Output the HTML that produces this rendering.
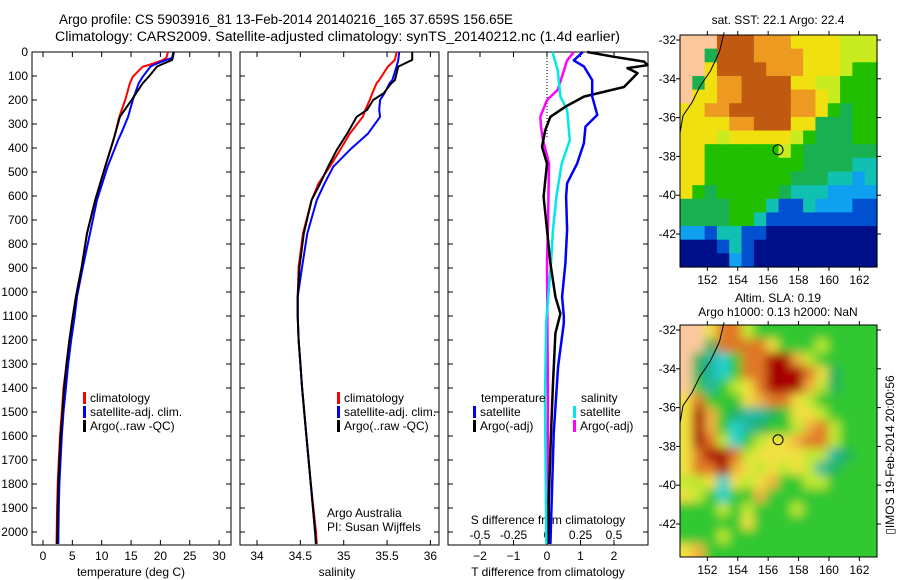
<!DOCTYPE html>
<html><head><meta charset="utf-8">
<style>
html,body{margin:0;padding:0;background:#fff;}
svg{display:block;font-family:"Liberation Sans",sans-serif;}
text{font-size:12px;fill:#000;}
</style></head>
<body>
<svg id="fig" width="900" height="580" viewBox="0 0 900 580" xmlns="http://www.w3.org/2000/svg">
<defs>
<filter id="blur" x="-5%" y="-5%" width="110%" height="110%"><feGaussianBlur stdDeviation="5"/></filter>
<clipPath id="clipSla"><rect x="680" y="325" width="197" height="232"/></clipPath>
</defs>
<text x="59" y="24" textLength="454" lengthAdjust="spacingAndGlyphs" style="font-size:13.5px">Argo profile: CS 5903916_81 13-Feb-2014 20140216_165 37.659S 156.65E</text>
<text x="55" y="41" textLength="565" lengthAdjust="spacingAndGlyphs" style="font-size:13.5px">Climatology: CARS2009. Satellite-adjusted climatology: synTS_20140212.nc (1.4d earlier)</text>
<g id="p1"></g>
<g id="p2"></g>
<g id="p3"></g>
<g id="m1"></g>
<g id="m2"></g>
<text x="778" y="24" text-anchor="middle">sat. SST: 22.1 Argo: 22.4</text>
<text x="778" y="302" text-anchor="middle">Altim. SLA: 0.19</text>
<text x="778" y="316" text-anchor="middle">Argo h1000: 0.13 h2000: NaN</text>
<text transform="translate(894,455) rotate(-90)" text-anchor="middle">▯IMOS 19-Feb-2014 20:00:56</text>
</svg>
<script>
// ---- data ----
const tDepth   = [0,25,33,54,61,103,130,200,270,340,367,478,617,756,895,1020,1100,1200,1300,1400,1500,1600,1700,1800,1900,2050];
const tClim    = [21.3,21.0,20.5,18.0,17,15.3,14.8,14,13,12.3,12.0,10.6,8.9,7.5,6.6,5.6,5.1,4.5,4.0,3.5,3.2,2.9,2.7,2.5,2.4,2.3];
const tSat     = [22.2,22.0,21.0,18.8,18.3,17,16.3,15.3,14.5,13.3,12.8,11,9.2,8.0,6.8,5.8,5.4,4.8,4.3,3.9,3.5,3.2,3.0,2.8,2.7,2.6];
const tArgo    = [22.3,22.1,22,20,19.4,18,17,15.1,13.1,12.3,12.0,10.6,8.9,7.5,6.6,5.6,5.1,4.5,4.0,3.6,3.3,3.0,2.8,2.6,2.5,2.4];
const sDepth   = [0,33,61,117,130,172,200,241,270,340,408,478,547,617,756,895,1020,1100,1200,1300,1400,1600,1800,2000,2050];
const sClim    = [35.61,35.59,35.51,35.41,35.38,35.33,35.30,35.25,35.22,35.07,34.96,34.84,34.71,34.63,34.53,34.48,34.47,34.47,34.48,34.50,34.52,34.57,34.62,34.68,34.69];
const sSat     = [35.64,35.63,35.61,35.56,35.53,35.47,35.42,35.41,35.42,35.28,35.07,34.88,34.78,34.69,34.58,34.52,34.47,34.47,34.48,34.50,34.52,34.57,34.62,34.67,34.68];
const sArgo    = [35.79,35.79,35.63,35.59,35.55,35.46,35.34,35.27,35.15,35.04,34.92,34.82,34.73,34.63,34.54,34.49,34.47,34.47,34.48,34.50,34.52,34.57,34.62,34.67,34.68];
const dtDepth  = [0,20,40,55,67,88,146,186,228,270,325,395,465,603,740,880,1020,1090,1172,1380,1590,1870,2050];
const dtArgo   = [1.2,2.0,2.9,3.0,2.4,2.7,2.3,1.1,0.55,0.1,-0.05,-0.15,0,-0.1,0,0.1,0.25,0.4,0.25,0.18,0.12,0.05,0.05];
const dtSatD   = [0,35,60,117,186,262,311,380,465,547,603,740,880,1020,1100,1130,1310,1590,2050];
const dtSat    = [1.07,0.8,1.1,1.35,1.35,1.5,1.15,1.1,0.9,0.6,0.57,0.6,0.55,0.45,0.5,0.5,0.33,0.2,0.1];
const dsSatD   = [0,75,186,241,367,465,603,740,880,1130,1450,2050];
const dsSat    = [0.04,0.08,0.1,0.15,0.17,0.11,0.07,0.045,0.03,-0.007,-0.015,-0.005];
const dsArgoD  = [0,35,88,158,200,270,311,367,465,740,880,1450,2050];
const dsArgo   = [0.2,0.15,0.12,0.08,0,-0.05,-0.045,-0.03,0.015,0.007,0,0.007,0.005];
const depthTicks = [0,100,200,300,400,500,600,700,800,900,1000,1100,1200,1300,1400,1500,1600,1700,1800,1900,2000];
const tTicks = [0,5,10,15,20,25,30];
const sTicks = [34,34.5,35,35.5,36];
const dtTicks = [-2,-1,0,1,2];
const dsTicks = [-0.5,-0.25,0,0.25,0.5];
const dsTickLabels = ['-0.5','-0.25','0','0.25','0.5'];
const lonTicks = [152,154,156,158,160,162];
const latTicks = [-32,-34,-36,-38,-40,-42];
const argoLon = 156.65, argoLat = -37.659;
const sstGrid = [
"LLLRRROOOYYYYyyy","LLgRRROOOOYYYyyy","LLYRRRROOOYYYyGG","LgYOORRRRYYyyGGG","LYYOORRRROOYyGGG",
"YYOORRRRROOYGgGG","YYYYOORRRYYgggGG","YYYyYYYYYyGgggGG","YYGGGGGGyGgggggg","YYGGGGGGGGggggTT",
"YYGGGGGGGgggTTBT","YGgGGGGGgTTTBBBB","ggggGGGTbbTBBBbb","ggggGGTbbbbbbbbb","BBbTTbbNNNNNNNNN",
"NNNbTbNNNNNNNNNN","NNNNBbNNNNNNNNNN"];
const slaGrid = [
"LLYOOyGGGGGGGGGG","LLgOOOOYGGGyGGGG","LgTCGOODDoyGGGGG","LgTCGOODDDOYgGGG","LGTGyYODDDoygGGG",
"YOGGGYoOOYyGGGGG","YDoGgTTgGYYyGGGG","YDoGCTgGGyoOyGGG","YDOyCGyYYoOOyGGG","YODDOyYYYYyyTgGG",
"YOODoYyYyYyTgGGG","yyYCYyYoGGyyGGGG","YyGCGGoGGGGGGGGG","GGGyGyGGGyGGGGGG","GGGGGYGGGGGGGGGG",
"GGGyGGGGGGGGGGGG","YoGGGGGGGGGGGGGG"];
const sstColors = {L:'#fcc89b',R:'#c05a10',O:'#ec9a20',Y:'#f0e010',y:'#c8ec20',G:'#20c000',g:'#18b050',T:'#10c0b0',B:'#10a0f0',b:'#0050d0',N:'#00108a'};
const slaColors = {L:'#fcc89b',D:'#a80000',O:'#e07828',o:'#f0b040',Y:'#f0e040',y:'#c0e830',G:'#30c830',g:'#20b060',T:'#20b8a0',C:'#20d0d0'};

// ---- helpers ----
const NS='http://www.w3.org/2000/svg';
function mk(parent,tag,attrs,txt){const e=document.createElementNS(NS,tag);for(const k in attrs)e.setAttribute(k,attrs[k]);if(txt!==undefined)e.textContent=txt;parent.appendChild(e);return e;}
const TOP=52, BOT=545;
const yD = d => TOP + d*0.24;
function frame(g,x0,x1,name){
  const r=mk(g,'rect',{x:x0,y:TOP,width:x1-x0,height:BOT-TOP,fill:'none',stroke:'#000','stroke-width':1});
  
  
  depthTicks.forEach(d=>{const y=yD(d);
    mk(g,'line',{x1:x0,x2:x0+5,y1:y,y2:y,stroke:'#000'});
    mk(g,'line',{x1:x1-5,x2:x1,y1:y,y2:y,stroke:'#000'});});
}
function series(g,xs,ds,xf,color,w,name){
  const pts=xs.map((v,i)=>xf(v).toFixed(1)+','+yD(ds[i]).toFixed(1)).join(' ');
  const p=mk(g,'polyline',{points:pts,fill:'none',stroke:color,'stroke-width':w,'stroke-linejoin':'round'});
  
  
}
function legend(g,x,y,color,label,name){
  mk(g,'rect',{x:x,y:y-10,width:3,height:12,fill:color});
  const t=mk(g,'text',{x:x+7,y:y},label);
  
  
}

// ---- panel 1: temperature ----
const p1=document.getElementById('p1');
const xT = t => 43 + 5.87*t;
frame(p1,32,231,'temperature-axes');
depthTicks.forEach(d=>{const t=mk(p1,'text',{x:28,y:yD(d)+4,'text-anchor':'end'},String(d));
  
  });
tTicks.forEach(v=>{const x=xT(v);
  mk(p1,'line',{x1:x,x2:x,y1:TOP,y2:TOP+5,stroke:'#000'});
  mk(p1,'line',{x1:x,x2:x,y1:BOT-5,y2:BOT,stroke:'#000'});
  const t=mk(p1,'text',{x:x,y:560,'text-anchor':'middle'},String(v));
  
  });
const t1=mk(p1,'text',{x:131,y:576,'text-anchor':'middle'},'temperature (deg C)');


series(p1,tClim,tDepth,xT,'#ff0000',2,'temp-climatology-line');
series(p1,tSat,tDepth,xT,'#0000ff',2,'temp-satellite-line');
series(p1,tArgo,tDepth,xT,'#000000',2,'temp-argo-line');
legend(p1,83,402,'#ff0000','climatology','legend-climatology');
legend(p1,83,416,'#0000ff','satellite-adj. clim.','legend-satellite');
legend(p1,83,430,'#000000','Argo(..raw -QC)','legend-argo');

// ---- panel 2: salinity ----
const p2=document.getElementById('p2');
const xS = s => 257 + 86.7*(s-34);
frame(p2,240,439,'salinity-axes');
sTicks.forEach(v=>{const x=xS(v);
  mk(p2,'line',{x1:x,x2:x,y1:TOP,y2:TOP+5,stroke:'#000'});
  mk(p2,'line',{x1:x,x2:x,y1:BOT-5,y2:BOT,stroke:'#000'});
  const t=mk(p2,'text',{x:x,y:560,'text-anchor':'middle'},String(v));
  
  });
const t2=mk(p2,'text',{x:337,y:576,'text-anchor':'middle'},'salinity');


series(p2,sClim,sDepth,xS,'#ff0000',2,'sal-climatology-line');
series(p2,sSat,sDepth,xS,'#0000ff',2,'sal-satellite-line');
series(p2,sArgo,sDepth,xS,'#000000',2,'sal-argo-line');
legend(p2,337,402,'#ff0000','climatology','legend-climatology-2');
legend(p2,337,416,'#0000ff','satellite-adj. clim.','legend-satellite-2');
legend(p2,337,430,'#000000','Argo(..raw -QC)','legend-argo-2');
const a1=mk(p2,'text',{x:327,y:517},'Argo Australia');


const a2=mk(p2,'text',{x:327,y:531},'PI: Susan Wijffels');



// ---- panel 3: differences ----
const p3=document.getElementById('p3');
const xDT = t => 547 + 33.5*t;
const xDS = s => 547 + 134*s;
frame(p3,448,648,'difference-axes');
dtTicks.forEach(v=>{const x=xDT(v);
  mk(p3,'line',{x1:x,x2:x,y1:TOP,y2:TOP+5,stroke:'#000'});
  mk(p3,'line',{x1:x,x2:x,y1:BOT-5,y2:BOT,stroke:'#000'});
  const t=mk(p3,'text',{x:x,y:560,'text-anchor':'middle'},String(v).replace('-','−'));
  
  });
dsTicks.forEach((v,i)=>{const t=mk(p3,'text',{x:xDS(v),y:539,'text-anchor':'middle'},dsTickLabels[i]);
  
  });
const t3=mk(p3,'text',{x:548,y:524,'text-anchor':'middle'},'S difference from climatology');


const t4=mk(p3,'text',{x:548,y:576,'text-anchor':'middle'},'T difference from climatology');


mk(p3,'line',{x1:xDT(0),x2:xDT(0),y1:TOP,y2:yD(360),stroke:'#000','stroke-dasharray':'1,2'});
series(p3,dsArgo,dsArgoD,xDS,'#ff00ff',2.5,'sal-diff-argo-line');
series(p3,dsSat,dsSatD,xDS,'#00e8e8',2.5,'sal-diff-satellite-line');
series(p3,dtArgo,dtDepth,xDT,'#000000',2.5,'temp-diff-argo-line');
series(p3,dtSat,dtSatD,xDT,'#0000ff',2.5,'temp-diff-satellite-line');
const lt=mk(p3,'text',{x:481,y:402},'temperature');


const ls=mk(p3,'text',{x:581,y:402},'salinity');


legend(p3,473,416,'#0000ff','satellite','legend-t-satellite');
legend(p3,473,430,'#000000','Argo(-adj)','legend-t-argo');
legend(p3,573,416,'#00e8e8','satellite','legend-s-satellite');
legend(p3,573,430,'#ff00ff','Argo(-adj)','legend-s-argo');

// ---- maps ----
function drawMap(id,grid,colors,y0,y1,smooth){
  const g=document.getElementById(id);
  const x0=680,x1=877,W=x1-x0,H=y1-y0;
  const rows=grid.length, cols=grid[0].length, cw=W/cols, ch=H/rows;
  let cellParent=g;
  if(smooth){
    const clip=mk(g,'g',{'clip-path':'url(#clipSla)'});
    cellParent=mk(clip,'g',{filter:'url(#blur)'});
  }
  grid.forEach((row,r)=>{for(let c=0;c<cols;c++){
    let cx=x0+c*cw, cy=y0+r*ch, w=cw+0.6, h=ch+0.6;
    if(smooth){ if(c===0){cx-=12;w+=12;} if(c===cols-1){w+=12;} if(r===0){cy-=12;h+=12;} if(r===rows-1){h+=12;} }
    mk(cellParent,'rect',{x:cx.toFixed(2),y:cy.toFixed(2),width:w.toFixed(2),height:h.toFixed(2),fill:colors[row[c]]});}});
  const xL = lon => x0 + (lon-150.2)*15.2;
  const yL = lat => y0 + 5 + (-32-lat)*19.4;
  const cl=mk(g,'polyline',{points:[[153.1,-31.6],[152.8,-32.6],[152.2,-33.6],[151.5,-34.4],[151.0,-35.2],[150.4,-35.9],[150.2,-36.8],[150.2,-37.5]].map(p=>xL(p[0]).toFixed(1)+','+yL(p[1]).toFixed(1)).join(' '),fill:'none',stroke:'#000','stroke-width':1});
  
  
  mk(g,'rect',{x:x0,y:y0,width:W,height:H,fill:'none',stroke:'#000'});
  lonTicks.forEach(v=>{const x=xL(v);
    mk(g,'line',{x1:x,x2:x,y1:y0,y2:y0-4,stroke:'#000'});
    mk(g,'line',{x1:x,x2:x,y1:y1,y2:y1+4,stroke:'#000'});
    const t=mk(g,'text',{x:x,y:y1+17,'text-anchor':'middle'},String(v));
    
    });
  latTicks.forEach(v=>{const y=yL(v);
    mk(g,'line',{x1:x0,x2:x0-4,y1:y,y2:y,stroke:'#000'});
    mk(g,'line',{x1:x1,x2:x1+4,y1:y,y2:y,stroke:'#000'});
    const t=mk(g,'text',{x:x0-4,y:y+4,'text-anchor':'end'},String(v));
    
    });
  const c=mk(g,'circle',{cx:xL(argoLon),cy:yL(argoLat),r:5,fill:'none',stroke:'#000','stroke-width':1});
  
  
}
drawMap('m1',sstGrid,sstColors,35,267,false);
drawMap('m2',slaGrid,slaColors,325,557,true);
</script>
</body></html>
